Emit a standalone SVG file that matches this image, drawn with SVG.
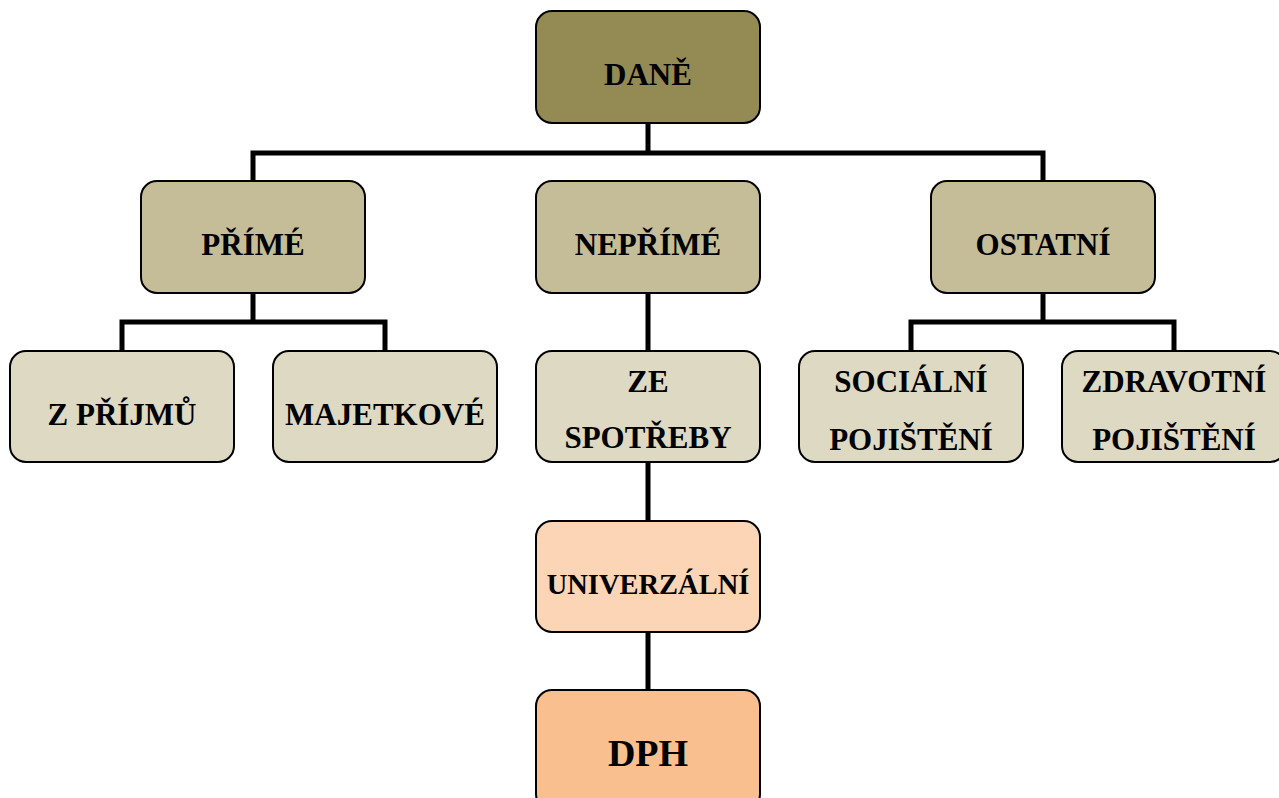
<svg xmlns="http://www.w3.org/2000/svg" width="1279" height="798" viewBox="0 0 1279 798">
<style>
.box{stroke:#000;stroke-width:2}
.l0{fill:#948A54}
.l1{fill:#C4BD97}
.l2{fill:#DDD9C3}
.u{fill:#FBD5B5}
.d{fill:#F9BF8F}
text{font-family:"Liberation Serif","DejaVu Serif",serif;font-weight:bold;font-size:31px;text-anchor:middle;dominant-baseline:central;fill:#000}
.con path{fill:none;stroke:#000;stroke-width:5}
</style>
<rect width="1279" height="798" fill="#fff"/>
<g class="con">
<path d="M648 123V153M253 181V153H1043V181"/>
<path d="M253 293V322M122 351V322H385V351"/>
<path d="M1043 293V322M911 351V322H1174V351"/>
<path d="M648 293V351M648 462V521M648 632V690"/>
</g>
<g id="dane"><rect class="box l0" x="536" y="11" width="224" height="112" rx="16"/><text x="648" y="74">DANĚ</text></g>
<g id="prime"><rect class="box l1" x="141" y="181" width="224" height="112" rx="16"/><text x="253" y="244">PŘÍMÉ</text></g>
<g id="neprime"><rect class="box l1" x="536" y="181" width="224" height="112" rx="16"/><text x="648" y="244">NEPŘÍMÉ</text></g>
<g id="ostatni"><rect class="box l1" x="931" y="181" width="224" height="112" rx="16"/><text x="1043" y="244">OSTATNÍ</text></g>
<g id="zprijmu"><rect class="box l2" x="10" y="351" width="224" height="111" rx="16"/><text x="122" y="414">Z PŘÍJMŮ</text></g>
<g id="majetkove"><rect class="box l2" x="273" y="351" width="224" height="111" rx="16"/><text x="385" y="414">MAJETKOVÉ</text></g>
<g id="zespotreby"><rect class="box l2" x="536" y="351" width="224" height="111" rx="16"/><text x="648" y="381">ZE</text><text x="648" y="437">SPOTŘEBY</text></g>
<g id="socialni"><rect class="box l2" x="799" y="351" width="224" height="111" rx="16"/><text x="911" y="381">SOCIÁLNÍ</text><text x="911" y="439">POJIŠTĚNÍ</text></g>
<g id="zdravotni"><rect class="box l2" x="1062" y="351" width="224" height="111" rx="16"/><text x="1174" y="381">ZDRAVOTNÍ</text><text x="1174" y="439">POJIŠTĚNÍ</text></g>
<g id="univerzalni"><rect class="box u" x="536" y="521" width="224" height="111" rx="16"/><text x="648" y="584" style="font-size:28.5px">UNIVERZÁLNÍ</text></g>
<g id="dph"><rect class="box d" x="536" y="690" width="224" height="120" rx="16"/><text x="648" y="753" style="font-size:38px">DPH</text></g>
</svg>
